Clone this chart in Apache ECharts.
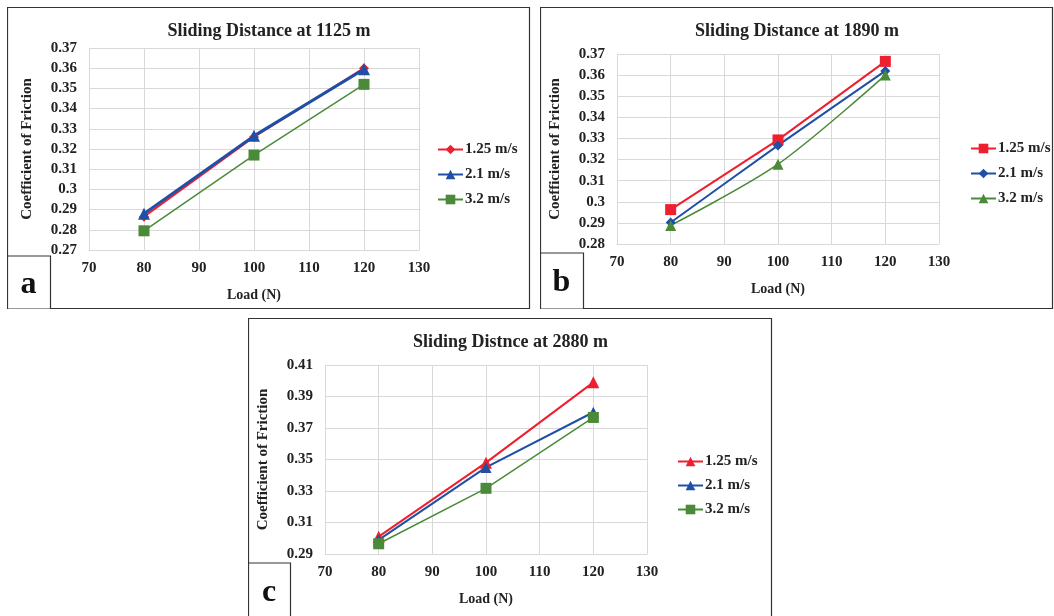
<!DOCTYPE html>
<html>
<head>
<meta charset="utf-8">
<script src="https://cdn.jsdelivr.net/npm/echarts@6/dist/echarts.min.js"></script>
<style>
body { margin: 0; background: #fff; width: 1054px; height: 616px; overflow: hidden; position: relative; }
.panel { position: absolute; }
#chart-a { left: 7px; top: 7px; width: 524px; height: 302px; }
#chart-b { left: 540px; top: 7px; width: 514px; height: 302px; }
#chart-c { left: 248px; top: 318px; width: 525px; height: 300px; }
</style>
</head>
<body>
<div id="chart-a" class="panel"></div>
<div id="chart-b" class="panel"></div>
<div id="chart-c" class="panel"></div>
<script>
// load values (N)
var loads = [80, 100, 120]
var speedNames = ['1.25 m/s', '2.1 m/s', '3.2 m/s']

// coefficient of friction, sliding distance 1125 m
var a125 = [0.2865, 0.326, 0.360]
var a21 = [0.288, 0.3265, 0.3595]
var a32 = [0.2795, 0.317, 0.352]

// 1890 m
var b125 = [0.2963, 0.3293, 0.3665]
var b21 = [0.2902, 0.3267, 0.362]
var b32 = [0.2888, 0.3178, 0.360]

// 2880 m
var c125 = [0.301, 0.348, 0.399]
var c21 = [0.299, 0.345, 0.380]
var c32 = [0.2965, 0.3317, 0.3767]

var RED = '#ee1f2f'
var BLUE = '#1f50a6'
var GREEN = '#4b8a38'
var FONT = '"Liberation Serif", "Times New Roman", serif'

function pairs (ys) {
  var out = []
  for (var i = 0; i < loads.length; i++) {
    out.push([loads[i], ys[i]])
  }
  return out
}

function makeSeries (name, ys, color, symbol, size, width, smooth) {
  return {
    name: name,
    type: 'line',
    data: pairs(ys),
    symbol: symbol,
    symbolSize: size,
    smooth: smooth || false,
    color: color,
    lineStyle: { color: color, width: width },
    itemStyle: { color: color },
    animation: false
  }
}

function buildOption (p) {
  return {
    animation: false,
    title: {
      text: p.title,
      left: 'center',
      top: p.titleTop,
      textStyle: { fontFamily: FONT, fontWeight: 'bold', fontSize: 18, color: '#222' }
    },
    legend: {
      orient: 'vertical',
      left: p.legendLeft,
      top: p.legendTop,
      padding: 0,
      itemWidth: 25,
      itemHeight: 12,
      itemGap: p.legendGap,
      data: speedNames,
      textStyle: { fontFamily: FONT, fontWeight: 'bold', fontSize: 15, color: '#222', padding: [0, 0, 0, -3] }
    },
    grid: p.grid,
    xAxis: {
      type: 'value',
      min: 70,
      max: 130,
      interval: 10,
      name: 'Load (N)',
      nameLocation: 'middle',
      nameGap: 38,
      nameTextStyle: { fontFamily: FONT, fontWeight: 'bold', fontSize: 14, color: '#222' },
      axisLine: { lineStyle: { color: '#d9d9d9' } },
      axisTick: { show: false },
      axisLabel: { fontFamily: FONT, fontWeight: 'bold', fontSize: 15, color: '#222', margin: 11 },
      splitLine: { show: true, lineStyle: { color: '#d9d9d9' } }
    },
    yAxis: {
      type: 'value',
      min: p.yMin,
      max: p.yMax,
      interval: p.yStep,
      name: 'Coefficient of Friction',
      nameLocation: 'middle',
      nameRotate: 90,
      nameGap: p.yNameGap,
      nameTextStyle: { fontFamily: FONT, fontWeight: 'bold', fontSize: 15, color: '#222' },
      axisLine: { show: true, lineStyle: { color: '#d9d9d9' } },
      axisTick: { show: false },
      axisLabel: {
        fontFamily: FONT, fontWeight: 'bold', fontSize: 15, color: '#222', margin: 12,
        formatter: function (v) { return String(Math.round(v * 100) / 100) }
      },
      splitLine: { show: true, lineStyle: { color: '#d9d9d9' } }
    },
    graphic: [
      {
        type: 'rect',
        shape: { x: 0.5, y: 0.5, width: p.w - 2, height: p.h - 1 },
        style: { fill: 'none', stroke: '#333', lineWidth: 1.2 },
        silent: true
      },
      {
        type: 'rect',
        shape: { x: 0.5, y: p.boxY, width: p.boxW, height: p.h - p.boxY },
        style: { fill: '#fff', stroke: '#333', lineWidth: 1.2 },
        z: 10,
        silent: true
      },
      {
        type: 'text',
        x: p.boxW / 2,
        y: p.boxY + (p.h - p.boxY) / 2 + 2,
        style: {
          text: p.letter,
          fontFamily: FONT,
          fontWeight: 'bold',
          fontSize: 32,
          fill: '#111',
          align: 'center',
          verticalAlign: 'middle'
        },
        z: 11,
        silent: true
      }
    ],
    series: p.series
  }
}

var chartA = echarts.init(document.getElementById('chart-a'))
chartA.setOption(buildOption({
  title: 'Sliding Distance at 1125 m',
  titleTop: 10,
  w: 524, h: 302,
  grid: { left: 82, right: 112, top: 41, bottom: 59 },
  yMin: 0.27, yMax: 0.37, yStep: 0.01, yNameGap: 54,
  legendLeft: 430, legendTop: 135, legendGap: 10,
  boxY: 249, boxW: 43, letter: 'a',
  series: [
    makeSeries(speedNames[0], a125, RED, 'diamond', 10, 2),
    makeSeries(speedNames[1], a21, BLUE, 'triangle', 12, 3),
    makeSeries(speedNames[2], a32, GREEN, 'rect', 11, 1.5)
  ]
}))

var chartB = echarts.init(document.getElementById('chart-b'))
chartB.setOption(buildOption({
  title: 'Sliding Distance at 1890 m',
  titleTop: 10,
  w: 514, h: 302,
  grid: { left: 77, right: 115, top: 47, bottom: 65 },
  yMin: 0.28, yMax: 0.37, yStep: 0.01, yNameGap: 54,
  legendLeft: 430, legendTop: 134, legendGap: 10,
  boxY: 246, boxW: 43, letter: 'b',
  series: [
    makeSeries(speedNames[0], b125, RED, 'rect', 11, 2),
    makeSeries(speedNames[1], b21, BLUE, 'diamond', 10, 2, 0.15),
    makeSeries(speedNames[2], b32, GREEN, 'triangle', 11, 1.5, 0.3)
  ]
}))

var chartC = echarts.init(document.getElementById('chart-c'))
chartC.setOption(buildOption({
  title: 'Sliding Distnce at 2880 m',
  titleTop: 10,
  w: 525, h: 300,
  grid: { left: 77, right: 126, top: 47, bottom: 64 },
  yMin: 0.29, yMax: 0.41, yStep: 0.02, yNameGap: 54,
  legendLeft: 429, legendTop: 136, legendGap: 9,
  boxY: 245, boxW: 42, letter: 'c',
  series: [
    makeSeries(speedNames[0], c125, RED, 'triangle', 12, 2),
    makeSeries(speedNames[1], c21, BLUE, 'triangle', 11, 2),
    makeSeries(speedNames[2], c32, GREEN, 'rect', 11, 1.5)
  ]
}))
</script>
</body>
</html>
